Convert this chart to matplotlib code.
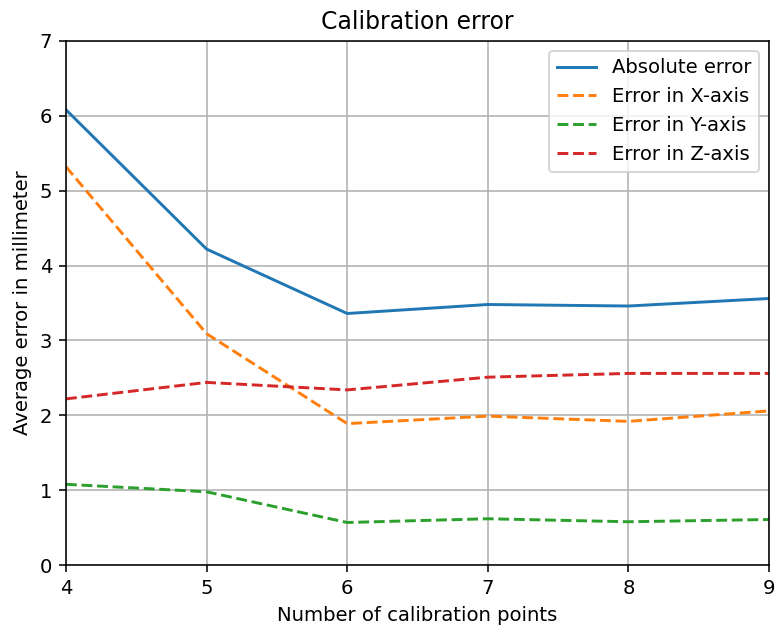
import numpy as np
import matplotlib
matplotlib.use('Agg')
from matplotlib import pyplot as plt

points = [4, 5, 6, 7, 8, 9]
abs_err = [6.08, 4.22, 3.36, 3.48, 3.46, 3.56]
x_err = [5.32, 3.09, 1.89, 1.99, 1.92, 2.06]
y_err = [1.08, 0.98, 0.57, 0.62, 0.58, 0.61]
z_err = [2.22, 2.44, 2.34, 2.51, 2.56, 2.56]

dpi = 141
fig, ax = plt.subplots(figsize=(776 / dpi, 628 / dpi), dpi=dpi)
ax.plot(points, abs_err, label='Absolute error')
ax.plot(points, x_err, '--', label='Error in X-axis')
ax.plot(points, y_err, '--', label='Error in Y-axis')
ax.plot(points, z_err, '--', label='Error in Z-axis')
ax.set_xlim(4, 9)
ax.set_ylim(0, 7)
ax.grid(True)
ax.legend(loc='upper right')
ax.set_xlabel('Number of calibration points')
ax.set_ylabel('Average error in millimeter')
ax.set_title('Calibration error')
fig.subplots_adjust(left=0.085, right=0.991, top=0.935, bottom=0.1)
fig.savefig('out.png', dpi=dpi)
